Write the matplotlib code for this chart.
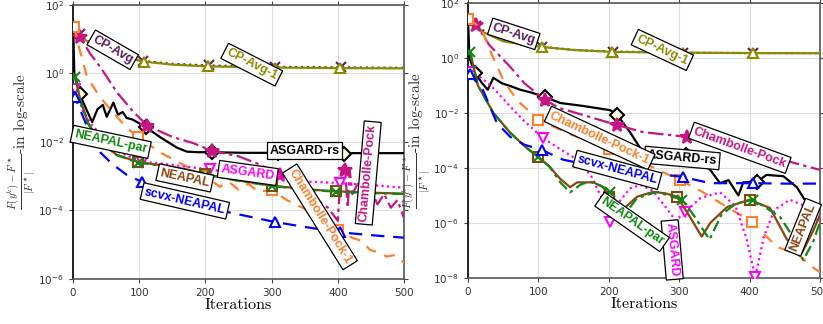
import numpy as np
import matplotlib
matplotlib.use("Agg")
import matplotlib.pyplot as plt

# ---------------- left panel data (iteration, relative objective gap) ----------------
L_cpavg_it = [0, 10, 30, 60, 105, 150, 205, 305, 405, 500]
L_cpavg_val = [30, 14, 6.5, 3.6, 2.3, 1.9, 1.7, 1.55, 1.5, 1.45]
L_cpavg_mk = [10, 105, 205, 305, 405]

L_cpavg1_it = [0, 2, 20, 50, 107, 150, 204, 305, 404, 500]
L_cpavg1_val = [30, 21, 9, 4, 2.2, 1.8, 1.6, 1.48, 1.42, 1.4]
L_cpavg1_mk = [2, 107, 204, 305, 404]

L_asgrs_it = [0, 2, 10, 20, 29, 37, 45, 51, 61, 68, 75, 81, 90, 110, 131, 157, 172, 190,
              210, 260, 310, 360, 400, 410, 420, 500]
L_asgrs_val = [35, 1.0, 0.25, 0.09, 0.038, 0.09, 0.12, 0.054, 0.14, 0.062, 0.075, 0.05, 0.045,
               0.027, 0.014, 0.0068, 0.0052, 0.005, 0.005, 0.0048, 0.0048, 0.0048, 0.0047,
               0.0044, 0.0047, 0.0047]
L_asgrs_mk = [10, 110, 210, 310, 410]

L_cp_it = [0, 11, 25, 41, 67, 90, 112, 150, 181, 210, 250, 282, 313, 340, 362, 385, 400, 404,
           408, 411, 415, 418, 422, 430, 440, 450, 460, 470, 480, 490, 500]
L_cp_val = [30, 11.6, 4, 1.55, 0.27, 0.08, 0.03, 0.014, 0.0093, 0.0055, 0.0038, 0.0022, 0.0011,
            6e-4, 2.5e-4, 1.2e-4, 5e-5, 1e-3, 2e-3, 1.5e-3, 1.2e-4, 1.5e-3, 3e-4, 6e-4, 2e-4,
            4e-4, 1.5e-4, 3e-4, 1.2e-4, 2e-4, 6e-5]
L_cp_mk = [11, 112, 210, 313, 411]

L_cp1_it = [0, 2, 10, 21, 41, 61, 82, 98, 131, 172, 200, 222, 235, 250, 265, 280, 300, 323,
            343, 360, 375, 390, 401, 418, 435, 449, 462, 474, 486, 500]
L_cp1_val = [22, 22, 5, 0.8, 0.2, 0.07, 0.025, 0.014, 5e-3, 1.9e-3, 1e-3, 4.9e-4, 7e-4, 4e-4,
             6e-4, 3.5e-4, 4e-4, 2e-4, 1.3e-4, 9e-5, 6e-5, 4e-5, 2.7e-5, 1.7e-5, 1.3e-5, 7e-6,
             6e-6, 4.5e-6, 5e-6, 3e-6]
L_cp1_mk = [2, 98, 200, 300, 401]

L_asg_it = [0, 3, 15, 29, 48, 70, 104, 131, 160, 192, 207, 250, 305, 350, 403, 450, 500]
L_asg_val = [0.5, 0.35, 0.08, 0.031, 0.0115, 5e-3, 2.6e-3, 2.4e-3, 2e-3, 1.7e-3, 1.6e-3,
             1.1e-3, 8e-4, 7e-4, 6.3e-4, 5.5e-4, 4.6e-4]
L_asg_mk = [3, 104, 207, 305, 403]

L_neapal_it = [0, 3, 11, 23, 41, 66, 98, 131, 170, 200, 250, 300, 350, 398, 450, 500]
L_neapal_val = [1.0, 0.8, 0.17, 0.035, 0.01, 4.2e-3, 2.6e-3, 2.1e-3, 1.6e-3, 1.15e-3, 7.5e-4,
                5.3e-4, 4.2e-4, 3.6e-4, 3.3e-4, 3.1e-4]
L_neapal_mk = [98, 200, 300, 398]

L_par_it = [0, 3, 11, 23, 41, 66, 98, 131, 170, 200, 250, 300, 350, 398, 450, 500]
L_par_val = [0.9, 0.8, 0.16, 0.033, 0.0098, 4.1e-3, 2.5e-3, 2.05e-3, 1.55e-3, 1.1e-3, 7.3e-4,
             5.2e-4, 4.1e-4, 3.5e-4, 3.2e-4, 3.0e-4]
L_par_mk = [3, 98, 200, 300, 398]

L_scvx_it = [0, 3, 11, 30, 41, 60, 81, 104, 130, 160, 192, 204, 222, 260, 305, 350, 403, 450, 500]
L_scvx_val = [0.3, 0.2, 0.085, 0.011, 5e-3, 2.2e-3, 1.1e-3, 6.8e-4, 3.5e-4, 2e-4, 1.3e-4,
              1.15e-4, 1e-4, 7e-5, 4.6e-5, 3.3e-5, 2.3e-5, 1.9e-5, 1.6e-5]
L_scvx_mk = [3, 104, 204, 305, 403]

# ---------------- right panel data ----------------
R_cpavg_it = [0, 12, 30, 60, 105, 150, 206, 305, 405, 500]
R_cpavg_val = [25, 15, 7, 3.8, 2.5, 1.95, 1.7, 1.55, 1.5, 1.5]
R_cpavg_mk = [12, 105, 206, 305, 405]

R_cpavg1_it = [0, 5, 20, 50, 105, 150, 205, 305, 405, 500]
R_cpavg1_val = [30, 24, 9, 4, 2.5, 1.95, 1.66, 1.55, 1.5, 1.48]
R_cpavg1_mk = [5, 105, 205, 305, 405]

R_asgrs_it = [0, 2, 10, 20, 28, 36, 48, 60, 74, 90, 109, 131, 163, 202, 212, 230, 249, 280,
              310, 320, 344, 358, 370, 384, 391, 410, 424, 448, 467, 481, 500]
R_asgrs_val = [25, 1.0, 0.28, 0.12, 0.07, 0.19, 0.12, 0.095, 0.07, 0.055, 0.038, 0.023, 0.018,
               0.0126, 8.5e-3, 2e-3, 3.5e-4, 3e-4, 2.9e-4, 2.9e-4, 8.5e-5, 2.8e-5, 3.6e-5,
               1e-5, 3e-5, 3.1e-5, 5.6e-5, 5e-5, 2e-5, 5.4e-6, 4e-6]
R_asgrs_mk = [10, 109, 212, 310, 410]

R_cp_it = [0, 12, 30, 60, 80, 109, 130, 163, 212, 249, 311, 360, 411, 460, 500]
R_cp_val = [30, 16, 3, 0.47, 0.12, 0.03, 0.015, 8.5e-3, 3.6e-3, 2e-3, 1.35e-3, 7e-4, 3.5e-4,
            1.6e-4, 8.5e-5]
R_cp_mk = [12, 109, 212, 311, 411]

R_cp1_it = [0, 10, 20, 31, 50, 69, 100, 150, 200, 250, 301, 330, 358, 380, 403, 420, 439, 453,
            467, 485, 500]
R_cp1_val = [26, 18, 10, 1.9, 0.16, 0.03, 5.6e-3, 1.5e-3, 5e-4, 1.5e-4, 3.6e-5, 1.5e-5, 5.4e-6,
             2.5e-6, 1.1e-6, 4e-7, 1.35e-7, 1e-7, 8e-8, 3e-8, 1.6e-8]
R_cp1_mk = [0, 100, 200, 301, 403]

R_asg_it = [0, 3, 20, 36, 60, 80, 107, 130, 155, 175, 190, 202, 215, 230, 245, 262, 280, 295,
            308, 330, 358, 380, 395, 408, 420, 435, 457, 480, 500]
R_asg_val = [0.5, 0.31, 0.18, 0.08, 0.017, 5e-3, 1.2e-3, 5e-4, 2e-4, 5e-5, 8e-6, 1.1e-6, 6e-6,
             1.8e-5, 2.4e-5, 1.5e-5, 4e-6, 1.2e-6, 2.5e-6, 8e-6, 1.3e-5, 4e-6, 3e-7, 1.1e-8,
             3e-7, 3e-6, 7e-6, 4e-6, 1e-6]
R_asg_mk = [3, 107, 202, 308, 408]

R_neapal_it = [0, 3, 14, 36, 60, 83, 100, 116, 131, 145, 155, 178, 192, 200, 216, 240, 263, 280,
               297, 315, 332, 344, 368, 400, 429, 453, 474, 490, 500]
R_neapal_val = [1.66, 1.6, 0.1, 0.01, 1.9e-3, 5.4e-4, 2.5e-4, 1.1e-4, 4e-5, 2e-5, 3e-5, 3e-5,
                2e-5, 9e-6, 2.5e-6, 9e-6, 1.35e-5, 1.2e-5, 9e-6, 1.7e-6, 3.2e-7, 1e-6, 3.8e-6,
                7e-6, 3.5e-6, 2.5e-7, 8e-8, 5e-7, 2e-6]
R_neapal_mk = [100, 200, 297, 400]

R_par_it = [0, 3, 14, 36, 60, 83, 100, 116, 131, 145, 160, 173, 190, 202, 215, 225, 240, 268,
            304, 320, 343, 360, 380, 405, 443, 462, 476, 490, 500]
R_par_val = [1.66, 1.66, 0.1, 0.01, 1.9e-3, 5.4e-4, 2.5e-4, 1.1e-4, 3e-5, 1.3e-5, 2.5e-5, 3.2e-5,
             2.2e-5, 1.3e-5, 4e-6, 2.5e-6, 8e-6, 1.35e-5, 7e-6, 2e-6, 2.5e-7, 2e-6, 5e-6, 7e-6,
             1.7e-6, 3e-7, 4.5e-8, 2e-7, 1.1e-6]
R_par_mk = [3, 100, 202, 304, 405]

R_scvx_it = [0, 3, 21, 41, 60, 80, 105, 135, 170, 205, 240, 273, 305, 344, 405, 450, 500]
R_scvx_val = [0.3, 0.26, 0.07, 4.3e-3, 1.35e-3, 7e-4, 4.5e-4, 2e-4, 1.3e-4, 1.1e-4, 9e-5, 6e-5,
              4.7e-5, 2.8e-5, 2.8e-5, 2.7e-5, 2.7e-5]
R_scvx_mk = [3, 105, 205, 305, 405]

# label texts
names = ['CP-Avg', 'CP-Avg-1', 'ASGARD-rs', 'Chambolle-Pock', 'Chambolle-Pock-1',
         'ASGARD', 'NEAPAL', 'NEAPAL-par', 'scvx-NEAPAL']

# colours / styles (same order as names)
colors = ['#5c1a5c', '#8b8b00', 'black', '#c71585', '#ff7f2a',
          '#ff00ff', '#8b4513', '#118811', '#0000ff']
styles = [':', '-', '-', (0, (7, 2, 1.5, 2)), (0, (5, 4)),
          (0, (1, 1.5)), '-', (0, (5, 2, 1.5, 2)), (0, (6, 4))]
markers = ['x', '^', 'D', '*', 's', 'v', 's', 'x', '^']
mfaces = ['none', 'white', '#ffffe0', '#c71585', 'white', 'white', 'none', 'none', 'white']

# label placements (iteration, value, rotation) per panel
L_lab = [(60, 4.9, -30), (270, 1.8, -27), (350, 5.5e-3, 0), (446, 1.24e-3, 85),
         (373, 6.5e-5, -58), (264, 1.24e-3, -8), (169, 8.9e-4, -12), (57, 1e-2, -12),
         (169, 1.9e-4, -13)]
R_lab = [(65, 7.5, -18), (276, 1.95, -25), (304, 2.3e-4, -5), (386, 5.4e-4, -20),
         (187, 1.23e-3, -25), (290, 1.05e-7, -85), (476, 7e-7, 68), (233, 1.1e-6, -35),
         (212, 8.5e-5, -15)]


def draw(ax, its, vals, marks, k):
    idx = [its.index(m) for m in marks]
    ms = 10 if markers[k] == '*' else 7.5
    ax.plot(its, vals, color=colors[k], ls=styles[k], lw=1.6,
            marker=markers[k], markevery=idx, ms=ms, mfc=mfaces[k],
            mec=colors[k], mew=1.5, zorder=3)


def setup(ax, ymin, yticks):
    ax.set_yscale('log')
    ax.set_xlim(0, 500)
    ax.set_ylim(ymin, 1e2)
    ax.set_xticks([0, 100, 200, 300, 400, 500])
    ax.set_yticks(yticks)
    ax.minorticks_off()
    ax.grid(True, color='#dddddd', lw=0.8)
    ax.tick_params(labelsize=7.5, labelcolor='#333333', color='#444444',
                   top=True, right=True, length=3)
    for s in ax.spines.values():
        s.set_color('#555555')
        s.set_linewidth(1.2)
    ax.spines['left'].set_color('black')
    ax.set_xlabel('Iterations', fontfamily='cmr10', fontsize=11.5, labelpad=0)
    ax.set_ylabel(r'$\frac{F(y^k)-F^\star}{|F^\star|}$-in log-scale', fontfamily='cmr10',
                  math_fontfamily='cm', fontsize=11, color='#333333', labelpad=1)


def put_labels(ax, lab):
    for k, (x, y, r) in enumerate(lab):
        ax.text(x, y, names[k], color=colors[k], rotation=r, fontsize=9,
                fontfamily='Liberation Sans', fontweight='bold',
                ha='center', va='center', rotation_mode='anchor', zorder=6,
                bbox=dict(boxstyle='square,pad=0.2', fc='white', ec='black', lw=0.9))


fig = plt.figure(figsize=(8.23, 3.24), dpi=100)
axL = fig.add_axes([0.0887, 0.139, 0.4022, 0.846])
axR = fig.add_axes([0.5687, 0.142, 0.4277, 0.849])

left = [(L_cpavg_it, L_cpavg_val, L_cpavg_mk), (L_cpavg1_it, L_cpavg1_val, L_cpavg1_mk),
        (L_asgrs_it, L_asgrs_val, L_asgrs_mk), (L_cp_it, L_cp_val, L_cp_mk),
        (L_cp1_it, L_cp1_val, L_cp1_mk), (L_asg_it, L_asg_val, L_asg_mk),
        (L_neapal_it, L_neapal_val, L_neapal_mk), (L_par_it, L_par_val, L_par_mk),
        (L_scvx_it, L_scvx_val, L_scvx_mk)]
right = [(R_cpavg_it, R_cpavg_val, R_cpavg_mk), (R_cpavg1_it, R_cpavg1_val, R_cpavg1_mk),
         (R_asgrs_it, R_asgrs_val, R_asgrs_mk), (R_cp_it, R_cp_val, R_cp_mk),
         (R_cp1_it, R_cp1_val, R_cp1_mk), (R_asg_it, R_asg_val, R_asg_mk),
         (R_neapal_it, R_neapal_val, R_neapal_mk), (R_par_it, R_par_val, R_par_mk),
         (R_scvx_it, R_scvx_val, R_scvx_mk)]

for k, (i, v, m) in enumerate(left):
    draw(axL, i, v, m, k)
for k, (i, v, m) in enumerate(right):
    draw(axR, i, v, m, k)

setup(axL, 1e-6, [1e2, 1e0, 1e-2, 1e-4, 1e-6])
setup(axR, 1e-8, [1e2, 1e0, 1e-2, 1e-4, 1e-6, 1e-8])
put_labels(axL, L_lab)
put_labels(axR, R_lab)

fig.savefig('out.png', dpi=100)
